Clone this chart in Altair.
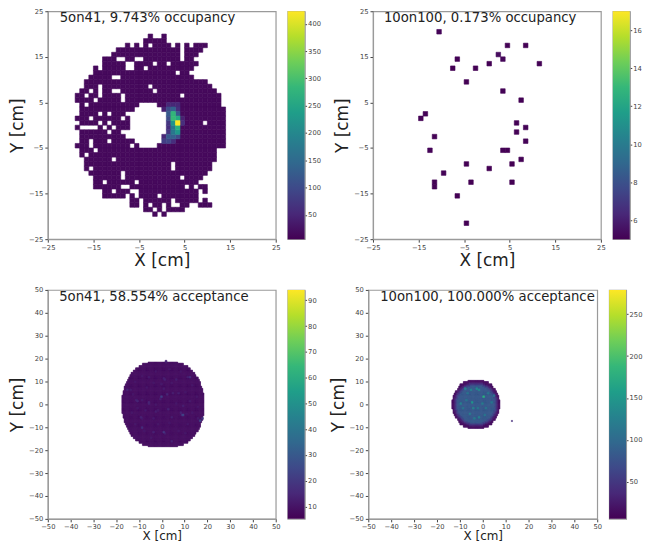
import altair as alt
import pandas as pd

FONT = "DejaVu Sans"
FRAME = "#9a9a9a"
TICK = "#444444"
VIRIDIS = ["#440154", "#482878", "#3e4989", "#31688e", "#26828e",
           "#1f9e89", "#35b779", "#6ece58", "#b5de2b", "#fde725"]

# ---------- panel 1: 5on41 occupancy (1 cm bins). y bin -> runs of x bins ----------
occ_5on41_runs = {
    19: [(-3, -3), (0, 0)],
    18: [(-4, 0)],
    17: [(-8, -8), (-6, -6), (-4, -4), (-2, 1), (3, 3), (5, 5), (7, 9)],
    16: [(-10, 3), (5, 8)],
    15: [(-11, 3), (5, 7)],
    14: [(-13, -11), (-8, -7), (-4, 3), (5, 6)],
    13: [(-13, -9), (-6, -3), (-1, 0), (2, 7)],
    12: [(-15, -15), (-13, -9), (-6, -5), (-3, 6)],
    11: [(-15, 2), (4, 5)],
    10: [(-16, -12), (-9, 6)],
    9: [(-17, 9)],
    8: [(-17, -15), (-13, -4), (-2, 10)],
    7: [(-18, -17), (-15, -15), (-13, -12), (-9, -3), (-1, 11)],
    6: [(-19, -18), (-16, -15), (-13, -10), (-8, 3), (5, 12)],
    5: [(-19, -16), (-14, -10), (-8, 12)],
    4: [(-18, -18), (-16, -6), (-1, 12)],
    3: [(-18, -7), (0, 13)],
    2: [(-18, -15), (-13, -13), (-11, -9), (1, 13)],
    1: [(-19, -17), (-15, -10), (-8, -8), (1, 13)],
    0: [(-18, -15), (-13, -13), (-11, -8), (1, 8), (10, 13)],
    -1: [(-19, -19), (-14, -14), (-12, -12), (-10, -8), (1, 13)],
    -2: [(-18, -13), (-11, -10), (1, 13)],
    -3: [(-18, -9), (0, 13)],
    -4: [(-18, -17), (-15, -13), (-11, -7), (0, 13)],
    -5: [(-19, -17), (-15, -8), (-6, -6), (-1, 13)],
    -6: [(-18, -16), (-14, 11)],
    -7: [(-18, -18), (-16, 11)],
    -8: [(-17, -12), (-10, 11)],
    -9: [(-17, 1), (3, 10)],
    -10: [(-17, -17), (-15, 1), (3, 10)],
    -11: [(-16, -10), (-8, 9)],
    -12: [(-15, -10), (-8, 3), (5, 8)],
    -13: [(-15, -14), (-12, -7), (-5, 7)],
    -14: [(-15, -10), (-7, 4), (6, 6), (8, 9)],
    -15: [(-13, -12), (-10, -8), (-5, 7), (9, 9)],
    -16: [(-13, -9), (-7, -7), (-5, -2), (0, 7)],
    -17: [(-7, -6), (-4, 1), (3, 7), (9, 9)],
    -18: [(-7, -6), (-4, -4), (-2, -1), (1, 1), (4, 5), (8, 10)],
    -19: [(-4, -3), (-1, -1), (1, 4)],
    -20: [(-2, -2), (0, 0)],
}
occ_5on41_base = 14
occ_5on41_hot = [
    (3, 0, 423), (2, 2, 280), (2, 1, 285), (3, 1, 260), (3, -1, 270), (3, -2, 225),
    (2, 0, 220), (2, -1, 170), (2, -2, 170), (2, 3, 135), (1, 3, 100), (1, 2, 120),
    (1, 1, 100), (1, 0, 70), (1, -1, 60), (1, -2, 70), (1, -3, 120), (2, -3, 130),
    (3, -3, 100), (0, -4, 80), (1, -4, 90), (2, -4, 60), (3, 2, 120), (3, 3, 60),
    (3, 4, 50), (1, 4, 50), (2, 4, 50), (4, 0, 60), (4, 1, 40), (0, 3, 40), (0, -3, 50),
]

# ---------- panel 2: 10on100 occupancy (x bin, y bin, value) ----------
occ_10on100 = [
    (-11, 20, 9.5), (4, 17, 5.8), (8, 17, 5.8), (2, 15, 17), (3, 14, 10), (-7, 14, 6.5),
    (11, 13, 6), (0, 13, 5.5), (-8, 12, 5.2), (-3, 12, 5.5), (-5, 9, 5.5), (3, 7, 7),
    (7, 5, 5.8), (-14, 2, 6), (-15, 1, 7.5), (6, 0, 6.5), (8, -1, 7), (6, -2, 7.5),
    (-12, -3, 6.5), (8, -4, 8), (-13, -6, 8.5), (3, -6, 7.5), (4, -6, 5.5), (7, -8, 6),
    (-5, -9, 5.5), (5, -9, 5.5), (0, -10, 5.5), (-10, -11, 7), (-12, -13, 6.5),
    (-12, -14, 6), (-4, -13, 5.5), (5, -13, 5.5), (-7, -16, 5.2), (-5, -22, 5.5),
]

# ---------- panel 3: 5on41 acceptance (0.5 cm bins) ----------
acc_5on41_center = 0.6
acc_5on41_halfwidth = [18, 18, 18, 18, 17.8, 17.6, 17.3, 17, 16.6, 16.2, 15.7,
                       15.2, 14.6, 13.9, 13, 12, 10.7, 9, 6.5]
acc_5on41_base = 20
acc_5on41_specks = [
    (1.5, 18, 35), (-12, 9.5, 30), (-6.2, 11.5, 35), (0.5, 11, 40), (11.2, 11.5, 40),
    (-9.2, 1.5, 35), (-6.2, 0, 45), (-1.1, 2, 40), (-11.3, 1.5, 45), (8.3, -5, 60),
    (15.5, -6.5, 35), (1, -13, 40), (-4, -6.5, 35), (-9.2, -6.5, 35), (15.5, -1.5, 30),
    (6.9, 4.5, 40), (0.5, 6.5, 35), (-7.7, -3, 35), (-1.9, -3, 35), (4, -6, 40),
    (-15.7, 6, 45), (10.5, -4.5, 30), (-0.4, 8.5, 35), (-0.6, 2.8, 80), (1.9, 3.9, 50),
    (4.4, 4.3, 40), (8.9, -5, 90), (8.1, -4, 45), (16.4, -7.4, 90), (17.4, -6.7, 75),
    (-6.1, 0.3, 50), (-11.2, 1, 50), (-9, -10.6, 60), (-3.9, -12.7, 45), (0.4, -12.7, 70),
    (4, -16.4, 45), (1.6, 18.4, 50), (1.2, 10.4, 45), (6.2, 10.4, 40), (12, 11.4, 60),
    (-9.7, -6.2, 45), (-14, 6, 35), (9.2, -1.2, 40), (12, 1, 35), (2.6, -2.6, 45),
    (-3.2, -3.3, 40),
    (-13, 4, 32), (-11, -2, 32), (-13.5, -4, 32), (-12, -9, 32), (-8, -12, 32), (-5, -15, 32),
    (-2, -9, 32), (-7, 7, 32), (-3, 14, 32), (3, 15, 32), (8, 14, 32), (13, 8, 32),
    (15, 3, 32), (11, -9, 32), (7, -12, 32), (3, -8.5, 32), (-4, 9, 32), (-9, 12, 32),
    (4, 9, 32), (10, 5, 32), (6, 0, 32), (-3, -0.5, 32), (13, -4, 32), (10, -13, 32),
]

# ---------- panel 4: 10on100 acceptance (0.5 cm bins) ----------
acc_10on100_center = -2.95
acc_10on100_halfwidth = [10.5, 10.4, 10.2, 9.8, 9.4, 8.9, 8.3, 7.6, 6.8, 5.5, 3.6]
# (inner radius of the band, value), outermost first
acc_10on100_bands = [(9.7, 20), (9.2, 40), (8.7, 65), (8.1, 95), (0, 122)]
acc_10on100_specks = [
    (0.1, 2.9, 270), (-1.8, 5.8, 200), (-5.4, 5.8, 190), (-6.9, 4.3, 170), (-9.8, 0, 190),
    (-5, 0.7, 220), (-6.1, -4.3, 180), (-9, -2.2, 170), (0.4, -5, 170), (-1.8, -5.8, 190),
    (3.3, 0.7, 170), (1.9, 4.3, 170), (-3.2, 6.5, 200), (-7.9, 6.5, 190), (-2.5, -2.2, 170),
    (-0.3, 0, 180), (-4.7, -2.2, 190), (-7.6, 1.4, 170), (4.3, 3.3, 170), (1.1, -2.2, 170),
    (-4, -6.5, 180),
]
acc_10on100_stray = [(12.5, -7.5, 60)]


def cell(x, y, v, w):
    return {"x": x, "x2": x + w, "y": y, "y2": y + w, "v": v}


def occ_cells_5on41():
    hot = {(a, b): v for a, b, v in occ_5on41_hot}
    out = []
    for y, runs in occ_5on41_runs.items():
        for a, b in runs:
            for x in range(a, b + 1):
                out.append(cell(x, y, hot.get((x, y), occ_5on41_base), 1))
    return out


def half_bins(center, half, y_half):
    """All 0.5 cm bins of the disc outlined by the half-width table."""
    res = []
    n = int(y_half * 2)
    for j in range(-n, n):
        yc = (j + 0.5) / 2
        i_row = min(int(abs(yc)), len(half) - 1)
        hw = half[i_row]
        k = int(round((center - hw) * 2))
        while (k + 0.5) / 2 < center + hw:
            res.append((k / 2, j / 2))
            k += 1
    return res


def speck_cells(specks):
    # a speck shows about one cm across in the picture
    return [cell(round(a * 2) / 2, round(b * 2) / 2, v, 0.75) for a, b, v in specks]


def acc_cells_5on41():
    out = [cell(x, y, acc_5on41_base, 0.5)
           for x, y in half_bins(acc_5on41_center, acc_5on41_halfwidth, 18.5)]
    return out + speck_cells(acc_5on41_specks)


def acc_cells_10on100():
    out = []
    for x, y in half_bins(acc_10on100_center, acc_10on100_halfwidth, 10.5):
        r = ((x + 0.25 - acc_10on100_center) ** 2 + (y + 0.25) ** 2) ** 0.5
        v = next(val for lim, val in acc_10on100_bands if r >= lim)
        out.append(cell(x, y, v, 0.5))
    out += speck_cells(acc_10on100_specks)
    for x, y, v in acc_10on100_stray:
        out.append(cell(x, y, v, 0.5))
    return out


def panel(cells, label, lx, ly, lim, ticks, dom, w, h, xpad=2, xsize=17):
    xs = alt.Scale(domain=[-lim, lim], nice=False, zero=False)
    ys = alt.Scale(domain=[-lim, lim], nice=False, zero=False)
    ax = dict(grid=False, values=ticks, tickCount=len(ticks), labelFont=FONT, labelFontSize=6.8,
              labelColor=TICK, tickColor=TICK, tickSize=3, domainColor=FRAME, domainWidth=1.2,
              titleFont=FONT, titleFontWeight="normal", titleColor="#222222",
              labelOverlap=False, labelFlush=False)
    x_axis = alt.Axis(title="X [cm]", titlePadding=xpad, titleFontSize=xsize, **ax)
    y_axis = alt.Axis(title="Y [cm]", titlePadding=2, titleFontSize=17, **ax)
    cscale = alt.Scale(scheme="viridis", domain=dom, nice=False, zero=False)
    base = alt.Chart(pd.DataFrame(cells)).mark_rect(strokeWidth=0.6).encode(
        x=alt.X("x:Q", scale=xs, axis=x_axis),
        x2="x2:Q",
        y=alt.Y("y:Q", scale=ys, axis=y_axis),
        y2="y2:Q",
        color=alt.Color("v:Q", legend=None, scale=cscale),
        stroke=alt.Stroke("v:Q", legend=None, scale=cscale),
        order=alt.Order("v:Q"),
    )
    txt = alt.Chart(pd.DataFrame([{"x": lx, "y": ly, "t": label}])).mark_text(
        font=FONT, fontSize=13.3, align="left", baseline="middle", color="#222222"
    ).encode(x=alt.X("x:Q", scale=xs, axis=x_axis), y=alt.Y("y:Q", scale=ys, axis=y_axis), text="t:N")
    return alt.layer(base, txt).properties(width=w, height=h)


def colorbar(dom, ticks, h):
    grad = alt.LinearGradient(
        gradient="linear", x1=0, x2=0, y1=1, y2=0,
        stops=[alt.GradientStop(color=c, offset=i / (len(VIRIDIS) - 1))
               for i, c in enumerate(VIRIDIS)])
    return alt.Chart(pd.DataFrame([{"lo": dom[0], "hi": dom[1]}])).mark_rect(color=grad).encode(
        x=alt.value(0), x2=alt.value(17),
        y=alt.Y("lo:Q", scale=alt.Scale(domain=dom, nice=False, zero=False),
                axis=alt.Axis(orient="right", title=None, values=ticks, tickCount=len(ticks), grid=False,
                              labelFont=FONT, labelFontSize=6.8, labelColor=TICK, tickColor=TICK,
                              tickSize=2, labelPadding=1, domainColor=FRAME, labelOverlap=False)),
        y2="hi:Q",
    ).properties(width=17, height=h)


top_ticks = [-25, -15, -5, 5, 15, 25]
bot_ticks = [-50, -40, -30, -20, -10, 0, 10, 20, 30, 40, 50]

dom1, cb1 = [5.5, 423], [50, 100, 150, 200, 250, 300, 350, 400]
dom2, cb2 = [5, 17], [6, 8, 10, 12, 14, 16]
dom3, cb3 = [5.2, 94], [10, 20, 30, 40, 50, 60, 70, 80, 90]
dom4, cb4 = [5.7, 279], [50, 100, 150, 200, 250]

p1 = panel(occ_cells_5on41(), "5on41, 9.743% occupancy", -22.4, 23.6, 25, top_ticks, dom1, 229, 229)
p2 = panel([cell(a, b, v, 1) for a, b, v in occ_10on100], "10on100, 0.173% occupancy",
           -22.6, 23.6, 25, top_ticks, dom2, 229, 229)
p3 = panel(acc_cells_5on41(), "5on41, 58.554% acceptance", -45, 47, 50, bot_ticks, dom3, 229, 230, xpad=0, xsize=12)
p4 = panel(acc_cells_10on100(), "10on100, 100.000% acceptance", -44.8, 47, 50, bot_ticks, dom4, 230, 230, xpad=0, xsize=12)

row1 = alt.hconcat(alt.hconcat(p1, colorbar(dom1, cb1, 229), spacing=6),
                   alt.hconcat(p2, colorbar(dom2, cb2, 229), spacing=6), spacing=11.7)
row2 = alt.hconcat(alt.hconcat(p3, colorbar(dom3, cb3, 230), spacing=6),
                   alt.hconcat(p4, colorbar(dom4, cb4, 230), spacing=6), spacing=11)

chart = alt.vconcat(row1, row2, spacing=16).properties(
    padding={"left": 0, "top": -2, "right": 0, "bottom": -1},
    background="white",
).configure_view(stroke=FRAME, strokeWidth=1.2)

chart.save("out.html", embed_options={"renderer": "svg", "actions": False})
